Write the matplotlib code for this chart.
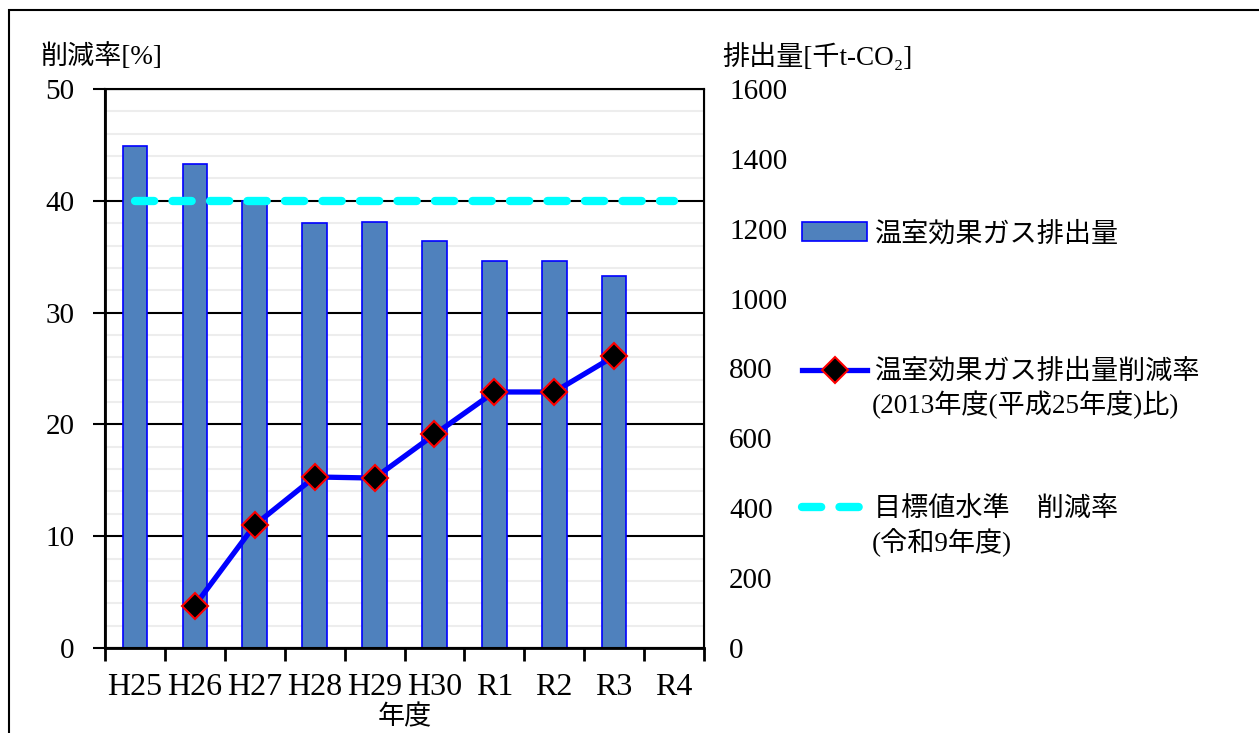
"""
温室効果ガス排出量と削減率 (H25 - R4)
棒: 排出量 (右軸)  /  折れ線: 削減率 (左軸)
"""

import numpy as np
import matplotlib
matplotlib.use('Agg')
import matplotlib.pyplot as plt
from matplotlib.patches import Rectangle

plt.rcParams['font.family'] = ['Liberation Serif', 'Noto Sans CJK JP']
FS = 19.5     # Japanese text
FS_TICK = 21  # numbers on y axes
FS_XTICK = 23 # year labels

# ── DATA ─────────────────────────────────────────────────────────────────────

years     = ['H25', 'H26', 'H27', 'H28', 'H29', 'H30', 'R1', 'R2', 'R3', 'R4']
emissions = [1437, 1385, 1279, 1216, 1218, 1165, 1108, 1108, 1065]          # 千t-CO2 (R4 なし)
reduction = [np.nan, 3.8, 11.0, 15.3, 15.2, 19.1, 22.9, 22.9, 26.1, np.nan]  # %
target    = [40] * len(years)                                                # 目標値 (令和9年度)

lbl_bar     = '温室効果ガス排出量'
lbl_line    = '温室効果ガス排出量削減率'
lbl_line2   = '(2013年度(平成25年度)比)'
lbl_target  = '目標値水準　削減率'
lbl_target2 = '(令和9年度)'

# ── FIGURE ───────────────────────────────────────────────────────────────────

W, H = 1259, 733
fig = plt.figure(figsize=(W / 100, H / 100), dpi=100)
ax = fig.add_axes([105 / W, 1 - 648 / H, (704 - 105) / W, (648 - 89) / H])
ax2 = ax.twinx()   # bars, right scale
ax3 = ax.twinx()   # lines, left scale (on top)

x = np.arange(len(years))

# grid (left scale)
ax.set_xlim(-0.5, len(years) - 0.5)
ax.set_ylim(0, 50)
ax.set_yticks(np.arange(0, 51, 10))
ax.set_yticks(np.arange(0, 51, 2), minor=True)
ax.yaxis.grid(True, which='major', color='black', lw=1.5)
ax.yaxis.grid(True, which='minor', color='#EDEDED', lw=1.5)
ax.tick_params(axis='y', which='major', labelsize=FS_TICK, length=9, width=1.5, pad=13)
ax.tick_params(axis='y', which='minor', length=0)
ax.set_xticks(np.arange(-0.5, len(years), 1))
ax.set_xticklabels([])
ax.set_xticks(x, minor=True)
ax.set_xticklabels(years, minor=True, fontsize=FS_XTICK)
ax.tick_params(axis='x', which='major', length=9, width=2)
ax.tick_params(axis='x', which='minor', length=0, pad=18)
for s in ['left', 'bottom']:
    ax.spines[s].set_linewidth(2)

# bars
ax2.bar(x[:len(emissions)], emissions, width=0.41, color='#4F81BD',
        edgecolor='#0000FF', lw=1.2, label=lbl_bar)
ax2.set_ylim(0, 1600)
ax2.set_yticks(np.arange(0, 1601, 200))
ax2.tick_params(axis='y', labelsize=FS_TICK, length=0, pad=18)
for s in ax2.spines.values():
    s.set_linewidth(1.5)

# lines
ax3.set_ylim(0, 50)
ax3.set_axis_off()
ax3.plot(x, reduction, color='#0000FF', lw=3.8, marker='D', ms=13.5,
         mfc='black', mec='red', mew=1.5, label=lbl_line)
ax3.plot(x, target, color='#00FFFF', lw=6, dashes=(2.3, 2.2),
         dash_capstyle='round', label=lbl_target)

# legend
h2, l2 = ax2.get_legend_handles_labels()
h3, l3 = ax3.get_legend_handles_labels()
fig.legend(h2 + h3, l2 + l3, loc='upper left',
           bbox_to_anchor=(802 / W, 1 - 222 / H), frameon=False,
           fontsize=FS, handlelength=2.4, handletextpad=0.25,
           labelspacing=4.15, borderpad=0, borderaxespad=0)
fig.text(872 / W, 1 - 405 / H, lbl_line2, fontsize=FS, va='center')
fig.text(872 / W, 1 - 543 / H, lbl_target2, fontsize=FS, va='center')

# axis titles
fig.text(40 / W, 1 - 57 / H, '削減率[%]', fontsize=FS, va='center')
fig.text(722 / W, 1 - 57 / H, '排出量[千t-CO₂]', fontsize=FS, va='center')
fig.text(405 / W, 1 - 718 / H, '年度', fontsize=FS, va='center', ha='center')

# outer frame (right/bottom edges run off the picture)
fig.patches.append(Rectangle((9 / W, -0.1), 1.2, 1.1 - 10 / H, transform=fig.transFigure,
                             fill=False, ec='black', lw=1.5))

plt.savefig('out.png', dpi=100)
